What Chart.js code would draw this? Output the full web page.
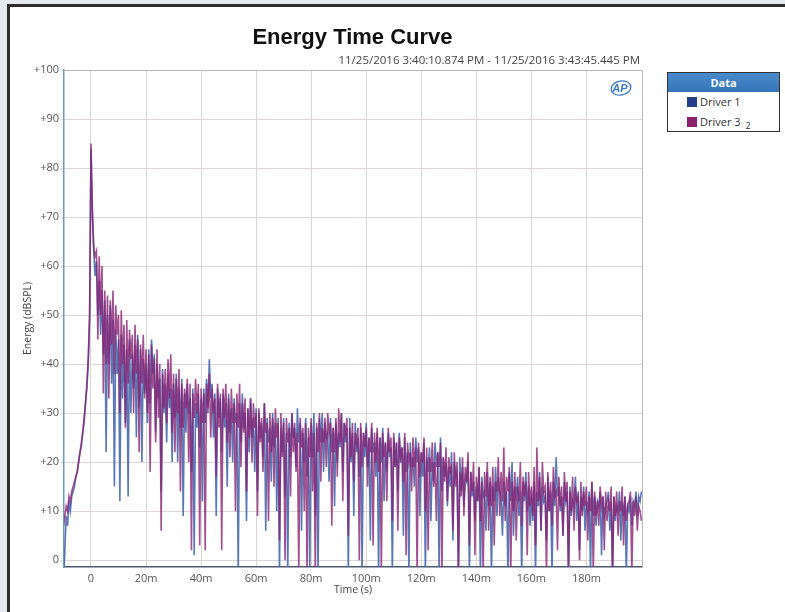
<!DOCTYPE html>
<html>
<head>
<meta charset="utf-8">
<title>Energy Time Curve</title>
<script src="https://cdn.jsdelivr.net/npm/chart.js"></script>
<style>
    body { margin: 0; width: 785px; height: 612px; overflow: hidden; background: #e4e9ef; font-family: "Open Sans", sans-serif; }
    #frame { position: absolute; left: 7px; top: 4px; width: 800px; height: 620px; border-left: 3px solid #2d2d2d; border-top: 3px solid #2d2d2d; background: #fff; }
    #chart { position: absolute; left: 0; top: 0; }
    #title { position: absolute; left: 0; top: 24px; width: 705px; text-align: center; font: bold 22px "Liberation Sans", Arial, sans-serif; color: #111; }
    #subtitle { position: absolute; left: 280px; top: 52px; width: 360px; text-align: right; font-size: 11.5px; line-height: 15px; color: #444; }
    #legend { position: absolute; left: 667px; top: 72px; width: 111px; height: 58px; border: 1px solid #333; background: #fff; font-size: 11px; color: #333; }
    #legend .head { height: 19px; line-height: 19px; text-align: center; color: #fff; font-weight: bold; background: linear-gradient(#4a8bcc, #3574b8); }
    #legend .row { position: relative; height: 20px; line-height: 20px; padding-left: 32px; }
    #legend .sw { position: absolute; left: 19px; top: 5px; width: 10px; height: 10px; }
    #legend sub { font-size: 9px; margin-left: 5px; }
</style>
</head>
<body>
<div id="frame"></div>
<canvas id="chart" width="660" height="612"></canvas>
<div id="title">Energy Time Curve</div>
<div id="subtitle">11/25/2016 3:40:10.874 PM - 11/25/2016 3:43:45.445 PM</div>
<div id="legend">
    <div class="head">Data</div>
    <div class="row"><span class="sw" style="background:#233f8c"></span>Driver 1</div>
    <div class="row"><span class="sw" style="background:#8c1f6e"></span>Driver 3<sub>2</sub></div>
</div>
<script>
    // sample grid of the measurement (ms)
    const timeStartMs = -10;
    const timeStepMs = 0.5;

    const seriesNames = ['Driver 1', 'Driver 3'];

    // Energy (dBSPL), one value per 0.5 ms
    const driver1 = [
        -5, 2, 9, 7, 12, 10, 13, 14, 15, 17, 18, 20, 22, 23, 26, 28, 32, 35, 40, 49,
        84, 70, 63, 58, 61, 50, 57, 46, 55, 42, 53, 22, 50, 40, 52, 36, 49, 15, 47, 38,
        45, 12, 46, 33, 44, 28, 43, 13, 45, 30, 42, 35, 44, 25, 46, 31, 43, 20, 41, 34,
        40, 28, 43, 32, 45, 38, 42, 26, 40, 33, 37, 14, 39, 30, 36, 24, 38, 31, 35, 20,
        36, 29, 38, 20, 35, 27, 37, 9, 34, 26, 36, 30, 33, 18, 35, 1, 32, 27, 34, 23,
        33, 12, 35, 28, 37, 30, 41, 33, 36, 25, 34, 9, 35, 29, 33, 22, 34, 27, 32, 15,
        34, 26, 31, 20, 33, 28, 30, -3, 32, 24, 34, 27, 30, 8, 31, 22, 33, 25, 29, 18,
        31, 14, 30, 25, 28, 21, 32, 6, 29, 24, 27, 16, 30, 23, 28, 10, 29, -3, 27, 22,
        29, 13, 26, -3, 28, 21, 30, 25, 27, 19, 31, 24, 28, 6, 26, 20, 29, 17, 25, -3,
        28, 21, 30, 9, 27, -3, 29, 24, 30, 18, 28, 25, 26, 16, 29, 22, 27, 11, 28, 20,
        26, 23, 30, 18, 28, 24, 27, -3, 29, 20, 26, 9, 28, 22, 25, 17, 27, -3, 26, 21,
        28, 19, 25, 4, 27, 22, 24, 17, 26, -3, 25, 20, 27, 12, 24, 18, 26, 21, 23, -3,
        25, 19, 24, 14, 26, 20, 23, 5, 25, 18, 22, -3, 24, 19, 21, 15, 25, 20, 23, 9,
        22, 17, 24, -3, 21, 18, 23, 8, 20, 16, 24, 19, 22, -3, 25, 14, 21, 17, 20, 11,
        19, 15, 22, 4, 20, 17, 18, -3, 21, 14, 19, 11, 17, 16, 20, -3, 18, 13, 16, 8,
        15, 12, 19, -3, 17, 13, 14, 6, 18, 11, 16, -3, 15, 12, 19, 9, 17, 14, 13, 5,
        16, 11, 14, -3, 18, 12, 20, 5, 15, 13, 17, 9, 14, -3, 16, 12, 18, 10, 15, 7,
        13, 8, 16, -3, 14, 11, 18, 6, 15, 12, 13, 4, 17, 10, 14, -3, 16, 11, 21, 13,
        15, 10, 13, 5, 16, 12, 14, -3, 15, 9, 12, 11, 17, 8, 14, 2, 13, 10, 15, 6,
        12, 10, 14, -3, 16, 9, 13, 7, 12, 11, 14, 1, 13, 9, 11, 12, 14, 6, 12, -3,
        13, 8, 11, 10, 14, 4, 12, 9, 13, -3, 11, 10, 13, 7, 12, 11, 14, 9, 13, 12,
        14
    ];

    const driver3 = [
        7, 9, 11, 10, 13, 12, 14, 15, 16, 17, 18, 20, 22, 24, 26, 29, 32, 36, 41, 50,
        85, 72, 64, 62, 63, 45, 62, 50, 60, 34, 55, 40, 54, 33, 53, 44, 55, 38, 52, 46,
        50, 30, 51, 40, 48, 27, 49, 36, 47, 41, 46, 30, 48, 38, 45, 22, 44, 36, 46, 33,
        43, 30, 42, 18, 44, 35, 41, 24, 43, 29, 40, 6, 38, 31, 39, 28, 41, 33, 42, 26,
        38, 22, 37, 30, 39, 14, 36, 27, 35, 31, 37, 20, 36, 2, 34, 29, 37, 30, 36, 3,
        35, 28, 34, 2, 36, 31, 38, 25, 35, 30, 33, 17, 36, 27, 34, 2, 35, 29, 36, 24,
        33, 21, 35, 28, 32, 10, 34, 27, 36, 19, 32, 26, 33, 14, 31, 25, 33, 20, 32, 27,
        30, 9, 31, 24, 29, 18, 32, 26, 28, 8, 30, 22, 29, 15, 31, 25, 28, 4, 30, 21,
        28, 0, 29, 24, 27, 13, 30, 22, 28, 18, 26, -3, 29, 23, 27, 10, 28, -3, 27, 21,
        29, 14, 26, -3, 28, 22, 30, 16, 27, 24, 29, 19, 30, 26, 28, 7, 27, 22, 29, 17,
        31, 24, 30, 12, 28, 26, 29, 5, 27, 21, 28, 16, 26, 24, 27, 0, 28, 19, 26, 23,
        27, 15, 25, 22, 28, 3, 26, 20, 27, 18, 25, -3, 26, 21, 24, 12, 27, 22, 25, 8,
        26, 19, 24, 6, 25, 21, 23, 16, 26, 1, 24, 20, 22, 14, 25, 19, 23, -3, 24, 17,
        22, 20, 25, 10, 23, 2, 21, 18, 24, 15, 20, 8, 22, 19, 24, -3, 21, 16, 23, 12,
        21, 18, 19, 6, 22, 15, 20, -3, 18, 13, 21, 9, 19, 16, 22, 3, 18, 14, 20, 1,
        17, 12, 19, 8, 16, -3, 18, 13, 20, 6, 17, 11, 19, 3, 16, 14, 21, 9, 18, 12,
        23, 8, 17, 14, 19, -3, 16, 10, 18, 4, 15, 12, 20, 7, 17, 13, 16, 1, 18, 11,
        15, 9, 19, 3, 23, 12, 17, 6, 20, 14, 15, -3, 18, 10, 16, 7, 19, 13, 14, 2,
        17, 11, 15, 5, 18, 12, 16, -3, 14, 10, 17, 6, 15, 12, 13, 0, 16, 9, 14, 11,
        15, 4, 13, 10, 16, -3, 14, 9, 12, 7, 15, 11, 13, 2, 14, 8, 12, 10, 15, -3,
        13, 9, 14, 5, 12, 10, 15, 3, 13, 8, 11, 12, 14, -3, 12, 9, 13, 6, 11, 10,
        8
    ];

    const xTickValues = [0, 20, 40, 60, 80, 100, 120, 140, 160, 180];
    const yTickValues = [0, 10, 20, 30, 40, 50, 60, 70, 80, 90, 100];

    const toPoints = values => values.map((v, i) => ({ x: timeStartMs + i * timeStepMs, y: v }));

    const tickFont = { family: 'Open Sans', size: 11 };
    const gridColor = '#ddd5d5';

    // plot frame (top/right edges) and the AP badge
    const framePlugin = {
        id: 'framePlugin',
        afterDraw(chart) {
            const { ctx, chartArea: a } = chart;
            ctx.save();
            ctx.strokeStyle = '#b9b9b9';
            ctx.lineWidth = 1;
            ctx.beginPath();
            ctx.moveTo(a.left, a.top + 0.5);
            ctx.lineTo(a.right + 0.5, a.top + 0.5);
            ctx.lineTo(a.right + 0.5, a.bottom);
            ctx.stroke();

            ctx.strokeStyle = '#3a78c8';
            ctx.lineWidth = 1.3;
            ctx.beginPath();
            ctx.ellipse(a.right - 21, a.top + 18, 10, 7, -0.2, 0, Math.PI * 2);
            ctx.stroke();
            ctx.fillStyle = '#3a78c8';
            ctx.font = 'italic bold 11px "Liberation Sans"';
            ctx.textAlign = 'center';
            ctx.textBaseline = 'middle';
            ctx.fillText('AP', a.right - 22, a.top + 18.5);
            ctx.restore();
        }
    };

    new Chart(document.getElementById('chart'), {
        type: 'line',
        data: {
            datasets: [
                {
                    label: seriesNames[1],
                    data: toPoints(driver3),
                    borderColor: 'rgba(138, 36, 116, 0.8)',
                    borderWidth: 1.6,
                    pointRadius: 0,
                    tension: 0,
                    order: 0
                }, {
                    label: seriesNames[0],
                    data: toPoints(driver1),
                    borderColor: 'rgba(62, 96, 168, 0.85)',
                    borderWidth: 1.6,
                    pointRadius: 0,
                    tension: 0,
                    order: 1
                }
            ]
        },
        options: {
            responsive: false,
            animation: false,
            events: [],
            layout: { padding: { left: 14, right: 18, top: 70, bottom: 10 } },
            plugins: { legend: { display: false }, tooltip: { enabled: false } },
            scales: {
                x: {
                    type: 'linear',
                    min: -9.8,
                    max: 200.2,
                    afterBuildTicks: s => { s.ticks = xTickValues.map(v => ({ value: v })); },
                    afterFit: s => { s.height = 35; },
                    ticks: {
                        autoSkip: false,
                        maxRotation: 0,
                        padding: 5,
                        color: '#555',
                        font: tickFont,
                        callback: v => v === 0 ? '0' : v + 'm'
                    },
                    grid: { color: gridColor, drawTicks: false },
                    border: { color: '#4d5a6e', width: 1.5 },
                    title: {
                        display: true,
                        text: 'Time (s)',
                        color: '#444',
                        font: { family: 'Open Sans', size: 10.5 },
                        padding: { top: 0, bottom: 6 }
                    }
                },
                y: {
                    min: -1.4,
                    max: 100,
                    afterBuildTicks: s => { s.ticks = yTickValues.map(v => ({ value: v })); },
                    afterFit: s => { s.width = 50; },
                    ticks: {
                        padding: 2,
                        color: '#555',
                        font: tickFont,
                        callback: v => v > 0 ? '+' + v : String(v)
                    },
                    grid: { color: gridColor, tickLength: 3 },
                    border: { color: '#7197c4', width: 1.5 },
                    title: {
                        display: true,
                        text: 'Energy (dBSPL)',
                        color: '#444',
                        font: { family: 'Open Sans', size: 10.5 },
                        padding: { top: 8, bottom: 0 }
                    }
                }
            }
        },
        plugins: [framePlugin]
    });
</script>
</body>
</html>
